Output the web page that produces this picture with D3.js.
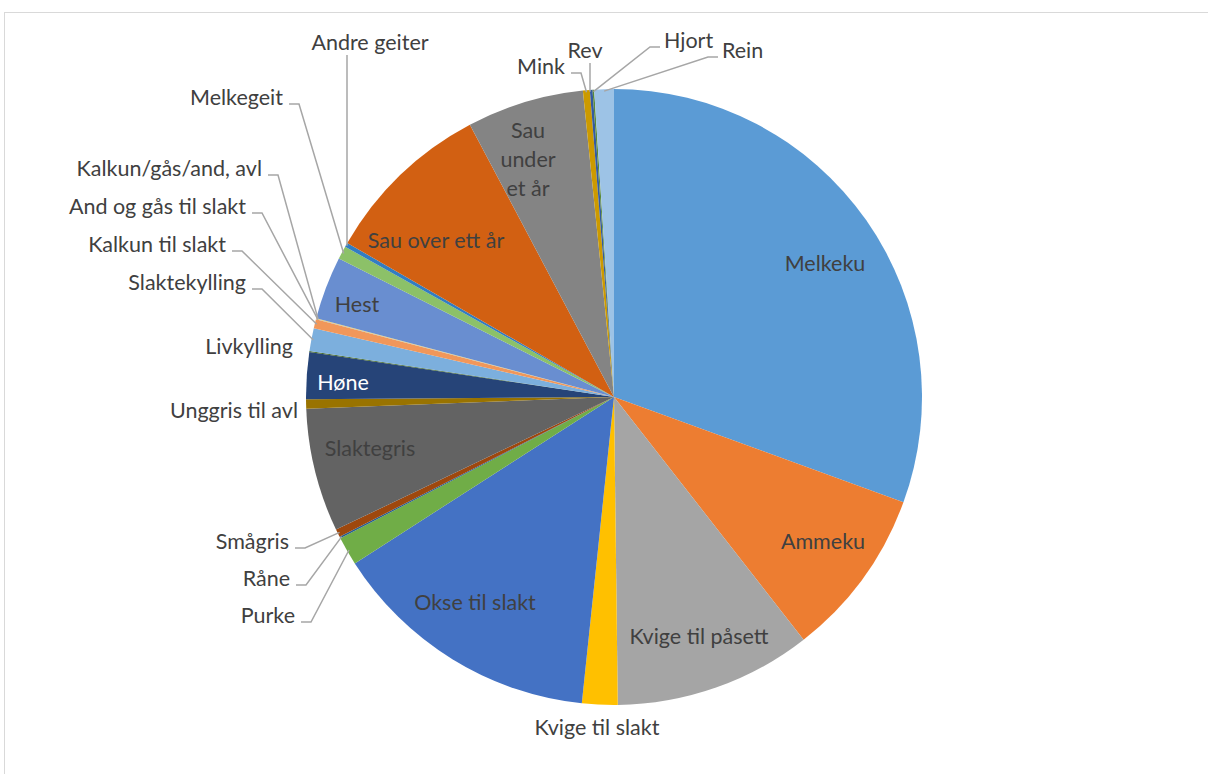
<!DOCTYPE html>
<html>
<head>
<meta charset="utf-8">
<script src="https://cdn.jsdelivr.net/npm/d3@7"></script>
<style>
  body { margin: 0; background: #fff; }
  svg { display: block; }
  text { font-family: Lato, "Open Sans", sans-serif; font-size: 21.5px; fill: #404040; }
</style>
</head>
<body>
<div id="chart"></div>
<script>
// data (share of the circle)
const categories = ["Melkeku","Ammeku","Kvige til påsett","Kvige til slakt","Okse til slakt","Purke","Råne","Smågris",
  "Slaktegris","Unggris til avl","Høne","Livkylling","Slaktekylling","Kalkun til slakt","And og gås til slakt",
  "Kalkun/gås/and, avl","Hest","Melkegeit","Andre geiter","Sau over ett år","Sau under et år","Mink","Rev","Hjort","Rein"]
const values = [110, 32, 37.3, 6.7, 51.3, 5.4, 0.3, 1.5,
  23.3, 1.8, 8.8, 0.2, 4.3, 1.7, 0.1,
  0.1, 11.9, 2.5, 0.8, 32.1, 22.1, 1.3, 0.5, 0.3, 3.7]

//excel palette
const colorArr = ["#5B9BD5","#ED7D31","#A5A5A5","#FFC000","#4472C4","#70AD47","#255E91","#9E480E",
  "#636363","#997300","#264478","#43682B","#7CAFDD","#F1975A","#B7B7B7",
  "#FFCD33","#698ED0","#8CC168","#327DC2","#D26012","#848484","#CC9A00","#335AA1","#5A8A39","#9DC3E6"]

const w = 1208, h = 774
const cx = 614, cy = 397, r = 308

// label layout: inside labels [x,y], outside labels with anchor + leader kink
const inside = {
  "Melkeku":[825,263], "Ammeku":[823,541], "Kvige til påsett":[699,636], "Okse til slakt":[475,602],
  "Slaktegris":[370,448], "Høne":[343,382], "Hest":[357,304], "Sau over ett år":[436,240]
}
const outside = {
  "Kvige til slakt":{x:597,y:727,a:"middle"},
  "Purke":{x:295,y:615,a:"end",lead:true},
  "Råne":{x:290,y:578,a:"end",lead:true},
  "Smågris":{x:289,y:541,a:"end",lead:true},
  "Unggris til avl":{x:298,y:410,a:"end"},
  "Livkylling":{x:293,y:346,a:"end"},
  "Slaktekylling":{x:246,y:282,a:"end",lead:true},
  "Kalkun til slakt":{x:226,y:244,a:"end",lead:true},
  "And og gås til slakt":{x:246,y:206,a:"end",lead:true},
  "Kalkun/gås/and, avl":{x:262,y:168,a:"end",lead:true},
  "Melkegeit":{x:283,y:97,a:"end",lead:true},
  "Andre geiter":{x:370,y:42,a:"middle",vert:347},
  "Mink":{x:565,y:66,a:"end",lead:true},
  "Rev":{x:585,y:50,a:"middle",vert:590},
  "Hjort":{x:664,y:40,a:"start",lead:true},
  "Rein":{x:722,y:50,a:"start",lead:true}
}

const svg = d3.select("#chart").append("svg")
  .attr("width", w).attr("height", h)

// chart border
svg.append("rect")
  .attr("x", 4.5).attr("y", 12.5)
  .attr("width", 1300).attr("height", 1000)
  .attr("fill", "none").attr("stroke", "#D9D9D9")

const pie = d3.pie().sort(null).value(d => d)
const arcs = pie(values)
const arc = d3.arc().innerRadius(0).outerRadius(r)

const g = svg.append("g").attr("transform", `translate(${cx},${cy})`)

g.selectAll("path.slice")
  .data(arcs)
  .enter()
  .append("path")
  .attr("class", "slice")
  .attr("d", arc)
  .attr("fill", (d, i) => colorArr[i])

// point on the rim for leader lines
const rim = (d, rr) => {
  const a = (d.startAngle + d.endAngle) / 2
  return [cx + rr * Math.sin(a), cy - rr * Math.cos(a)]
}

const lines = svg.append("g")
const labels = svg.append("g")

arcs.forEach((d, i) => {
  const name = categories[i]
  if (inside[name]) {
    const p = inside[name]
    labels.append("text")
      .attr("x", p[0]).attr("y", p[1])
      .attr("text-anchor", "middle")
      .attr("dominant-baseline", "central")
      .style("fill", name == "Høne" ? "#fff" : "#404040")
      .text(name)
    return
  }
  if (name == "Sau under et år") {
    const t = labels.append("text").attr("text-anchor", "middle")
    ;["Sau","under","et år"].forEach((s, k) => {
      t.append("tspan").attr("x", 528).attr("y", 130 + k * 29)
        .attr("dominant-baseline", "central").text(s)
    })
    return
  }
  const o = outside[name]
  if (!o) return
  labels.append("text")
    .attr("x", o.x).attr("y", o.y)
    .attr("text-anchor", o.a)
    .attr("dominant-baseline", "central")
    .text(name)
  const end = rim(d, r - 2)
  let pts = null
  if (o.lead) {
    const ly = o.y + 7
    if (o.a == "end") pts = [[o.x + 6, ly], [o.x + 16, ly], end]
    else pts = [[o.x - 4, ly], [o.x - 14, ly], end]
  } else if (o.vert) {
    pts = [[o.vert, o.y + 13], [o.vert, end[1]]]
  }
  if (pts) {
    lines.append("polyline")
      .attr("points", pts.map(p => p.join(",")).join(" "))
      .attr("fill", "none")
      .attr("stroke", "#A6A6A6")
      .attr("stroke-width", 1.5)
  }
})
</script>
</body>
</html>
